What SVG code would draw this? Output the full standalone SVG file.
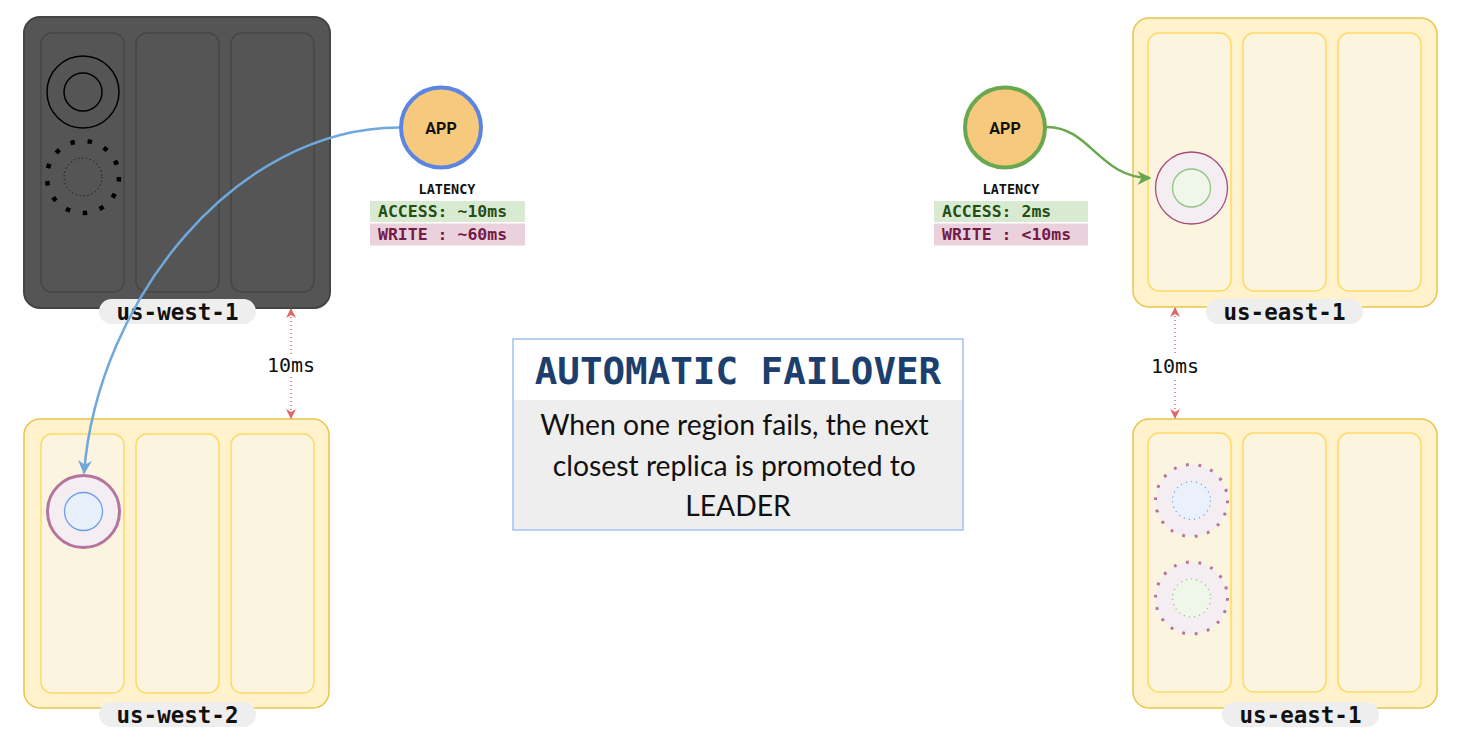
<svg xmlns="http://www.w3.org/2000/svg" width="1469" height="752" viewBox="0 0 1469 752">
<style>
.region{fill:#fff2cc;stroke:#e8c548;stroke-width:1.5}
.col{fill:#fbf5df;stroke:#ffd966;stroke-width:1.5}
.dead{fill:#555555;stroke:#444444;stroke-width:2}
.deadcol{fill:#555555;stroke:#464646;stroke-width:1.5}
.pill{fill:#eeeeee}
.rlabel{font-family:"DejaVu Sans Mono","Liberation Mono",monospace;font-weight:bold;font-size:22.5px;fill:#111;text-anchor:middle;dominant-baseline:central}
.app{fill:#f6c97d;stroke-width:4}
.apptxt{font-family:Roboto,"Liberation Sans",sans-serif;font-weight:bold;font-size:16px;fill:#111;text-anchor:middle;dominant-baseline:central}
.lat{font-family:"DejaVu Sans Mono","Liberation Mono",monospace;font-weight:bold;font-size:13.5px;fill:#111;text-anchor:middle}
.acc{fill:#d9ead3}
.wr{fill:#ead1dc}
.acct{font-family:"DejaVu Sans Mono","Liberation Mono",monospace;font-weight:bold;font-size:16.5px;fill:#274e13}
.wrt{font-family:"DejaVu Sans Mono","Liberation Mono",monospace;font-weight:bold;font-size:16.5px;fill:#741b47}
.ms{font-family:"DejaVu Sans Mono","Liberation Mono",monospace;font-size:20px;fill:#111;text-anchor:middle;dominant-baseline:central}
.lat-line{fill:none;stroke:#e06666;stroke-width:1.5;stroke-dasharray:1 3}
</style>
<defs>
<marker id="aBlue" viewBox="0 0 10 10" refX="9" refY="5" markerWidth="14" markerHeight="14" markerUnits="userSpaceOnUse" orient="auto">
<path d="M0,0 L10,5 L0,10 L3,5 z" fill="#6fa8dc"/>
</marker>
<marker id="aGreen" viewBox="0 0 10 10" refX="9" refY="5" markerWidth="14" markerHeight="14" markerUnits="userSpaceOnUse" orient="auto">
<path d="M0,0 L10,5 L0,10 L3,5 z" fill="#6aa84f"/>
</marker>
<marker id="aRed" viewBox="0 0 10 10" refX="9" refY="5" markerWidth="10" markerHeight="10" markerUnits="userSpaceOnUse" orient="auto-start-reverse">
<path d="M0,0 L10,5 L0,10 L3,5 z" fill="#e06666"/>
</marker>
</defs>

<g id="us-west-1">
<rect class="dead" x="24" y="17" width="306" height="291" rx="16"/>
<rect class="deadcol" x="41" y="33" width="83" height="259" rx="11"/>
<rect class="deadcol" x="136" y="33" width="83" height="259" rx="11"/>
<rect class="deadcol" x="231" y="33" width="83" height="259" rx="11"/>
<circle cx="83" cy="92" r="36" fill="none" stroke="#000" stroke-width="1.5"/>
<circle cx="83" cy="92" r="19" fill="none" stroke="#000" stroke-width="1.5"/>
<circle cx="83" cy="177" r="36" fill="none" stroke="#000" stroke-width="4.5" stroke-dasharray="4.5 12.9"/>
<circle cx="83" cy="177" r="19" fill="none" stroke="#000" stroke-width="1" stroke-dasharray="1 3"/>
<rect class="pill" x="99" y="299" width="157" height="25" rx="12.5"/>
<text class="rlabel" x="177.5" y="311.5">us-west-1</text>
</g>

<g id="us-west-2">
<rect class="region" x="24" y="419" width="305" height="289" rx="16"/>
<rect class="col" x="41" y="434" width="83" height="259" rx="11"/>
<rect class="col" x="136" y="434" width="83" height="259" rx="11"/>
<rect class="col" x="231" y="434" width="83" height="259" rx="11"/>
<circle cx="83.5" cy="511.5" r="36" fill="#f4eef2" stroke="#b5739d" stroke-width="3"/>
<circle cx="83.5" cy="511.5" r="19" fill="#e8f0fc" stroke="#6d9eeb" stroke-width="1.3"/>
<rect class="pill" x="99" y="702" width="157" height="25" rx="12.5"/>
<text class="rlabel" x="177.5" y="714.5">us-west-2</text>
</g>

<g id="us-east-1-top">
<rect class="region" x="1133" y="18" width="304" height="289" rx="16"/>
<rect class="col" x="1148" y="33" width="83" height="258" rx="11"/>
<rect class="col" x="1243" y="33" width="83" height="258" rx="11"/>
<rect class="col" x="1338" y="33" width="83" height="258" rx="11"/>
<circle cx="1191.5" cy="188" r="36" fill="#f4eef2" stroke="#a64d79" stroke-width="1.3"/>
<circle cx="1191.5" cy="188" r="19" fill="#eef7ea" stroke="#93c47d" stroke-width="1.3"/>
<rect class="pill" x="1206" y="299" width="157" height="25" rx="12.5"/>
<text class="rlabel" x="1284.5" y="311.5">us-east-1</text>
</g>

<g id="us-east-1-bottom">
<rect class="region" x="1133" y="419" width="304" height="289" rx="16"/>
<rect class="col" x="1148" y="433" width="83" height="259" rx="11"/>
<rect class="col" x="1243" y="433" width="83" height="259" rx="11"/>
<rect class="col" x="1338" y="433" width="83" height="259" rx="11"/>
<circle cx="1191.5" cy="500.5" r="36" fill="#f4eef2" stroke="#b5739d" stroke-width="3" stroke-dasharray="2.8 9.8"/>
<circle cx="1191.5" cy="500.5" r="19" fill="#eaf1fc" stroke="#6d9eeb" stroke-width="1.2" stroke-dasharray="1.2 4"/>
<circle cx="1191.5" cy="598" r="36" fill="#f4eef2" stroke="#b5739d" stroke-width="3" stroke-dasharray="2.8 9.8"/>
<circle cx="1191.5" cy="598" r="19" fill="#eef7ea" stroke="#93c47d" stroke-width="1.2" stroke-dasharray="1.2 4"/>
<rect class="pill" x="1222" y="702" width="157" height="25" rx="12.5"/>
<text class="rlabel" x="1300.5" y="714.5">us-east-1</text>
</g>

<g id="app-west">
<circle class="app" cx="441" cy="127.5" r="40" stroke="#5b85e0"/>
<text class="apptxt" x="441" y="128">APP</text>
<text class="lat" x="447" y="194">LATENCY</text>
<rect class="acc" x="370" y="201" width="155" height="21"/>
<rect class="wr" x="370" y="223.5" width="155" height="22"/>
<text class="acct" x="378" y="217">ACCESS: ~10ms</text>
<text class="wrt" x="378" y="240">WRITE : ~60ms</text>
</g>

<g id="app-east">
<circle class="app" cx="1005" cy="127.5" r="40" stroke="#6aa84f"/>
<text class="apptxt" x="1005" y="128">APP</text>
<text class="lat" x="1011" y="194">LATENCY</text>
<rect class="acc" x="934" y="201" width="154" height="21"/>
<rect class="wr" x="934" y="223.5" width="154" height="22"/>
<text class="acct" x="942" y="217">ACCESS: 2ms</text>
<text class="wrt" x="942" y="240">WRITE : &lt;10ms</text>
</g>

<g id="title-box">
<rect x="513" y="339" width="450" height="191" fill="#eeeeee" stroke="#a4c2f4" stroke-width="1.5"/>
<rect x="514" y="340" width="448" height="60" fill="#ffffff"/>
<text x="738" y="384" font-family="DejaVu Sans Mono,Liberation Mono,monospace" font-weight="bold" font-size="37.5" fill="#1c3f6e" text-anchor="middle">AUTOMATIC FAILOVER</text>
<text font-family="Lato,'Open Sans',sans-serif" font-size="28.3" fill="#111" text-anchor="middle">
<tspan x="738" y="435">When one region fails, the next</tspan>
<tspan x="738" y="476">closest replica is promoted to</tspan>
<tspan x="738" y="516">LEADER</tspan>
</text>
</g>

<g id="connectors">
<path d="M399,127.5 C235,128 98,300 84,473" fill="none" stroke="#6fa8dc" stroke-width="2.5" marker-end="url(#aBlue)"/>
<path d="M1047,127 C1090,127 1100,178 1150,178" fill="none" stroke="#6aa84f" stroke-width="2.5" marker-end="url(#aGreen)"/>
<path class="lat-line" d="M291,309 L291,418" marker-start="url(#aRed)" marker-end="url(#aRed)"/>
<rect x="263" y="354" width="56" height="23" fill="#fff"/>
<text class="ms" x="291" y="365">10ms</text>
<path class="lat-line" d="M1175,308 L1175,418" marker-start="url(#aRed)" marker-end="url(#aRed)"/>
<rect x="1147" y="355" width="56" height="23" fill="#fff"/>
<text class="ms" x="1175" y="366">10ms</text>
</g>
</svg>
